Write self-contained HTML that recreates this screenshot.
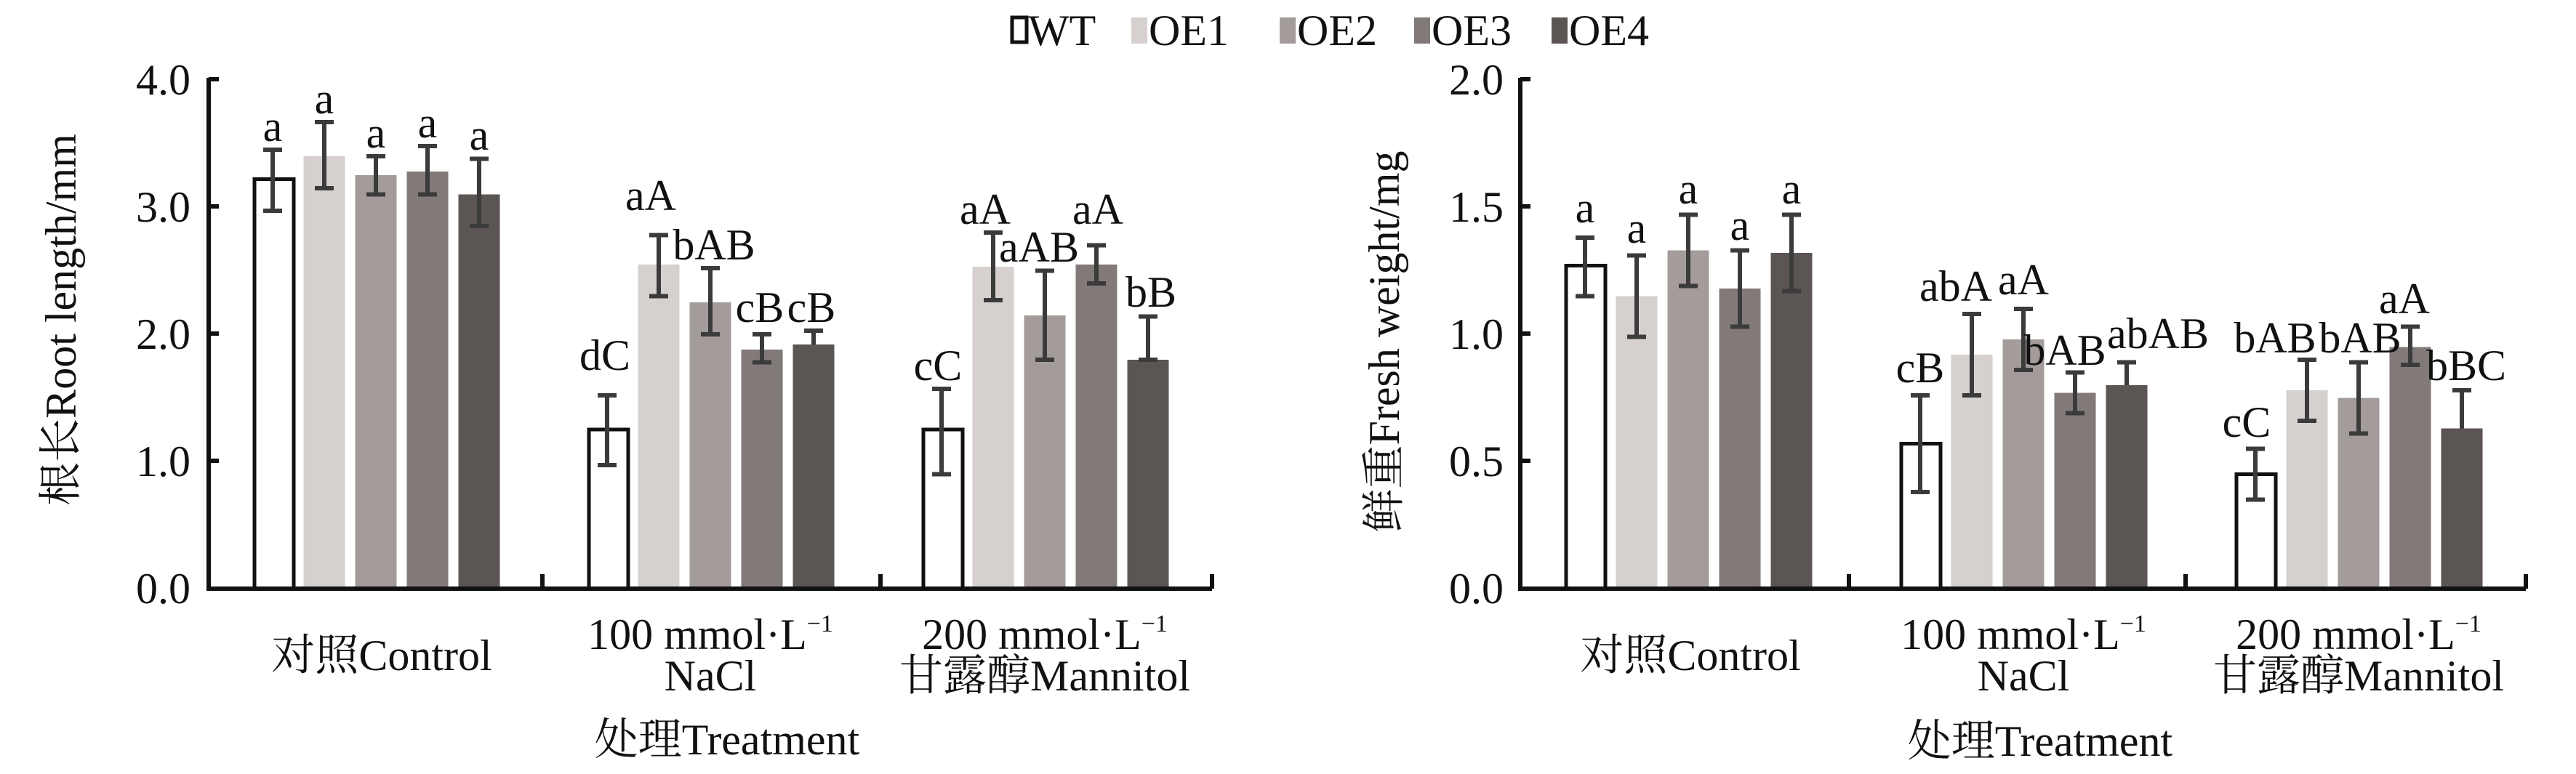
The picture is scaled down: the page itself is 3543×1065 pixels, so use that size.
<!DOCTYPE html>
<html><head><meta charset="utf-8"><style>
body{margin:0;background:#fff}
svg{display:block}
text{font-family:"Liberation Serif","Noto Serif CJK SC",serif;font-size:60px;fill:#111}
.lab{text-anchor:middle}
.eb{stroke:#3b3b3b;stroke-width:6;fill:none}
.ax{stroke:#111;stroke-width:6;fill:none}
</style></head><body>
<svg width="3543" height="1065" viewBox="0 0 3543 1065" xmlns="http://www.w3.org/2000/svg">
<!-- legend -->
<rect x="1392" y="24" width="20" height="34" fill="#fff" stroke="#111" stroke-width="5"/><text x="1414" y="62">WT</text>
<rect x="1556" y="24" width="22" height="36" fill="#d6d0ce"/><text x="1580" y="62">OE1</text>
<rect x="1760" y="24" width="22" height="36" fill="#a39c9a"/><text x="1784" y="62">OE2</text>
<rect x="1945" y="24" width="22" height="36" fill="#817a79"/><text x="1969" y="62">OE3</text>
<rect x="2134" y="24" width="22" height="36" fill="#5b5553"/><text x="2158" y="62">OE4</text>

<!-- LEFT CHART -->
<g>
<rect x="350" y="246.5" width="54" height="563.5" fill="#fff" stroke="#111" stroke-width="5"/>
<rect x="417.5" y="215" width="57" height="595" fill="#d6d0ce"/>
<rect x="488.5" y="241" width="57" height="569" fill="#a39c9a"/>
<rect x="559.5" y="236" width="57" height="574" fill="#817a79"/>
<rect x="630.5" y="267.5" width="57" height="542.5" fill="#5b5553"/>
<rect x="810" y="591" width="54" height="219" fill="#fff" stroke="#111" stroke-width="5"/>
<rect x="877.5" y="364" width="57" height="446" fill="#d6d0ce"/>
<rect x="948.5" y="416" width="57" height="394" fill="#a39c9a"/>
<rect x="1019.5" y="481" width="57" height="329" fill="#817a79"/>
<rect x="1090.5" y="474" width="57" height="336" fill="#5b5553"/>
<rect x="1270" y="591" width="54" height="219" fill="#fff" stroke="#111" stroke-width="5"/>
<rect x="1337.5" y="367" width="57" height="443" fill="#d6d0ce"/>
<rect x="1408.5" y="434" width="57" height="376" fill="#a39c9a"/>
<rect x="1479.5" y="364" width="57" height="446" fill="#817a79"/>
<rect x="1550.5" y="495" width="57" height="315" fill="#5b5553"/>
<path class="eb" d="M375 290V206M362 290h26M362 206h26
M446 259V168M433 259h26M433 168h26
M517 267.5V215M504 267.5h26M504 215h26
M588 267.5V201M575 267.5h26M575 201h26
M659 311V218.5M646 311h26M646 218.5h26
M835 640V544M822 640h26M822 544h26
M906 407.5V323.5M893 407.5h26M893 323.5h26
M977 460V369M964 460h26M964 369h26
M1048 498.5V460M1035 498.5h26M1035 460h26
M1119 474V455M1106 455h26
M1295 652.5V535M1282 652.5h26M1282 535h26
M1366 413V320M1353 413h26M1353 320h26
M1437 495V372.5M1424 495h26M1424 372.5h26
M1508 390V337.5M1495 390h26M1495 337.5h26
M1579 495V435.5M1566 495h26M1566 435.5h26"/>
<g class="lab">
<text x="375" y="194">a</text><text x="446" y="156">a</text><text x="517" y="203">a</text><text x="588" y="189">a</text><text x="659" y="206">a</text>
<text x="832" y="509">dC</text><text x="895" y="289">aA</text><text x="982" y="357">bAB</text><text x="1045" y="443">cB</text><text x="1116" y="443">cB</text>
<text x="1290" y="523">cC</text><text x="1355" y="308">aA</text><text x="1429" y="360">aAB</text><text x="1510" y="308">aA</text><text x="1583" y="422">bB</text>
</g>
<path class="ax" d="M287 107V810H1667M287 109h14M287 284h14M287 459h14M287 634h14M746 810v-20M1211 810v-20M1667 810v-20"/>
<g style="text-anchor:end"><text x="262" y="130">4.0</text><text x="262" y="305">3.0</text><text x="262" y="480">2.0</text><text x="262" y="655">1.0</text><text x="262" y="830">0.0</text></g>
<text transform="translate(104 440) rotate(-90)" class="lab">根长Root length/mm</text>
<g class="lab">
<text x="525" y="922">对照Control</text>
<text x="977" y="893">100 mmol·L<tspan dy="-24" font-size="34">−1</tspan></text>
<text x="977" y="950">NaCl</text>
<text x="1437" y="893">200 mmol·L<tspan dy="-24" font-size="34">−1</tspan></text>
<text x="1437" y="950">甘露醇Mannitol</text>
<text x="1000" y="1038">处理Treatment</text>
</g>
</g>

<!-- RIGHT CHART -->
<g>
<rect x="2154" y="365.5" width="54" height="444.5" fill="#fff" stroke="#111" stroke-width="5"/>
<rect x="2222.5" y="407.5" width="57" height="402.5" fill="#d6d0ce"/>
<rect x="2293.5" y="344.5" width="57" height="465.5" fill="#a39c9a"/>
<rect x="2364.5" y="397" width="57" height="413" fill="#817a79"/>
<rect x="2435.5" y="348" width="57" height="462" fill="#5b5553"/>
<rect x="2615" y="610.5" width="54" height="199.5" fill="#fff" stroke="#111" stroke-width="5"/>
<rect x="2683.5" y="488" width="57" height="322" fill="#d6d0ce"/>
<rect x="2754.5" y="467" width="57" height="343" fill="#a39c9a"/>
<rect x="2825.5" y="540.5" width="57" height="269.5" fill="#817a79"/>
<rect x="2896.5" y="530" width="57" height="280" fill="#5b5553"/>
<rect x="3076" y="652.5" width="54" height="157.5" fill="#fff" stroke="#111" stroke-width="5"/>
<rect x="3144.5" y="537" width="57" height="273" fill="#d6d0ce"/>
<rect x="3215.5" y="547.5" width="57" height="262.5" fill="#a39c9a"/>
<rect x="3286.5" y="477.5" width="57" height="332.5" fill="#817a79"/>
<rect x="3357.5" y="589.5" width="57" height="220.5" fill="#5b5553"/>
<path class="eb" d="M2180 407.5V327M2167 407.5h26M2167 327h26
M2251 463.5V351.5M2238 463.5h26M2238 351.5h26
M2322 393.5V295.5M2309 393.5h26M2309 295.5h26
M2393 449.5V344.5M2380 449.5h26M2380 344.5h26
M2464 400.5V295.5M2451 400.5h26M2451 295.5h26
M2641 677V544M2628 677h26M2628 544h26
M2712 544V432M2699 544h26M2699 432h26
M2783 509V425M2770 509h26M2770 425h26
M2854 568.5V512.5M2841 568.5h26M2841 512.5h26
M2925 530V498.5M2912 498.5h26
M3102 687.5V617.5M3089 687.5h26M3089 617.5h26
M3173 579V495M3160 579h26M3160 495h26
M3244 596.5V498.5M3231 596.5h26M3231 498.5h26
M3315 502V449.5M3302 502h26M3302 449.5h26
M3386 589.5V537M3373 537h26"/>
<g class="lab">
<text x="2180" y="306">a</text><text x="2251" y="334">a</text><text x="2322" y="280">a</text><text x="2393" y="330">a</text><text x="2464" y="280">a</text>
<text x="2641" y="526">cB</text><text x="2690" y="414">abA</text><text x="2783" y="405">aA</text><text x="2840" y="502">bAB</text><text x="2968" y="479">abAB</text>
<text x="3090" y="601">cC</text><text x="3129" y="485">bAB</text><text x="3246" y="485">bAB</text><text x="3307" y="431">aA</text><text x="3392" y="523">bBC</text>
</g>
<path class="ax" d="M2091 107V810H3474M2091 109h14M2091 284h14M2091 459h14M2091 634h14M2543 810v-20M3006 810v-20M3474 810v-20"/>
<g style="text-anchor:end"><text x="2068" y="130">2.0</text><text x="2068" y="305">1.5</text><text x="2068" y="480">1.0</text><text x="2068" y="655">0.5</text><text x="2068" y="830">0.0</text></g>
<text transform="translate(1924 470) rotate(-90)" class="lab">鲜重Fresh weight/mg</text>
<g class="lab">
<text x="2325" y="922">对照Control</text>
<text x="2783" y="893">100 mmol·L<tspan dy="-24" font-size="34">−1</tspan></text>
<text x="2783" y="950">NaCl</text>
<text x="3244" y="893">200 mmol·L<tspan dy="-24" font-size="34">−1</tspan></text>
<text x="3244" y="950">甘露醇Mannitol</text>
<text x="2806" y="1040">处理Treatment</text>
</g>
</g>
</svg>
</body></html>
